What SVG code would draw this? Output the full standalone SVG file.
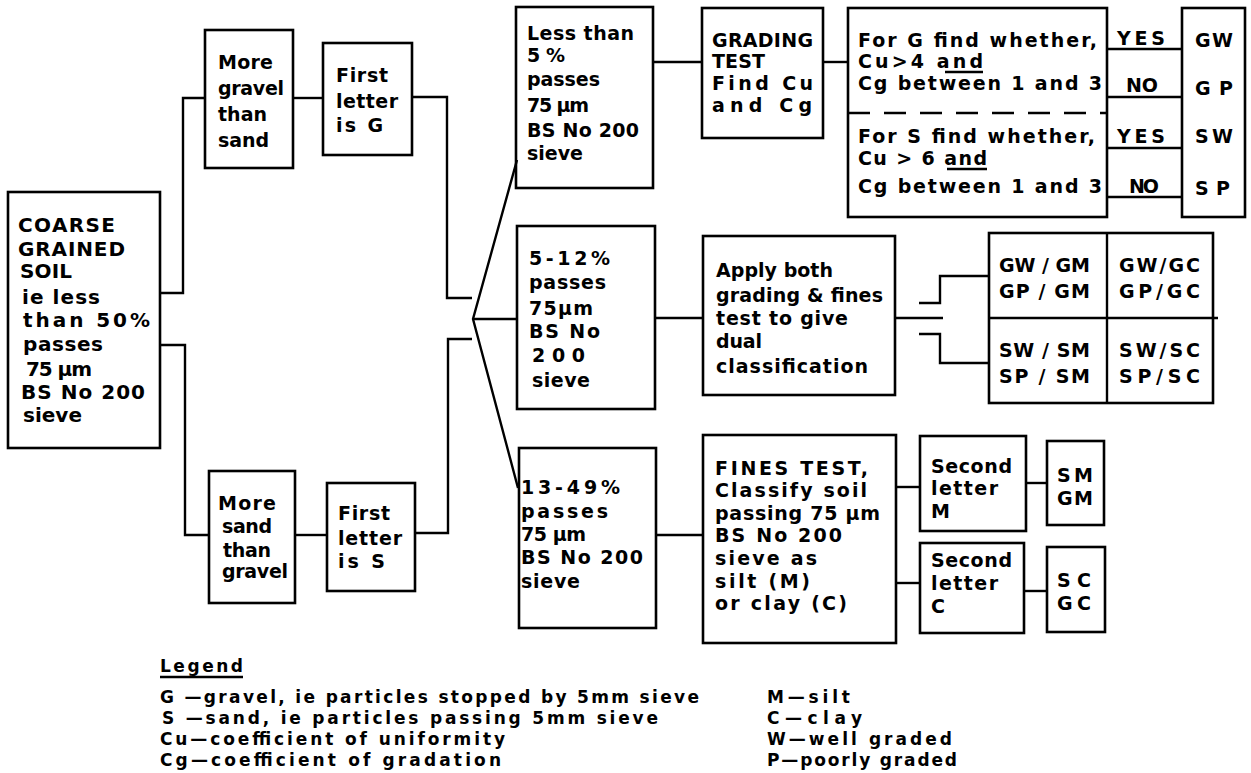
<svg xmlns="http://www.w3.org/2000/svg" width="1251" height="773" viewBox="0 0 1251 773">
<style>
.b{fill:none;stroke:#000;stroke-width:2.6}
.c{fill:none;stroke:#000;stroke-width:2.4}
text{font-family:"DejaVu Sans","Liberation Sans",sans-serif;font-weight:bold;font-size:19px;fill:#000}
.big{font-size:20px}
.lg{font-size:17px}
</style>
<rect width="1251" height="773" fill="#fff"/>
<g id="connectors" class="c">
<path d="M160,293 H183 V98 H205"/>
<path d="M160,345 H185 V535 H209"/>
<path d="M293,98 H323"/>
<path d="M295,535 H327"/>
<path d="M412,97 H447 V298 H472"/>
<path d="M415,533 H448 V339 H472"/>
<path d="M517,160 L473,319 L518,488"/>
<path d="M473,319 H517"/>
<path d="M653,62 H702"/>
<path d="M823,62 H848"/>
<path d="M1107,49 H1182"/>
<path d="M1107,97 H1182"/>
<path d="M1107,148 H1182"/>
<path d="M1107,197 H1182"/>
<path d="M655,318 H703"/>
<path d="M895,318 H943"/>
<path d="M919,303 H940 V276 H989"/>
<path d="M919,334 H940 V363 H989"/>
<path d="M656,535 H703"/>
<path d="M896,487 H920"/>
<path d="M896,583 H920"/>
<path d="M1026,483 H1047"/>
<path d="M1024,591 H1047"/>
</g>
<g id="coarse">
<rect class="b" x="8" y="192" width="152" height="256"/>
<text class="big" x="18" y="232" textLength="97">COARSE</text>
<text class="big" x="18" y="256" textLength="107">GRAINED</text>
<text class="big" x="20" y="278" textLength="52">SOIL</text>
<text class="big" x="22" y="304" textLength="78">ie less</text>
<text class="big" x="23" y="327" textLength="127">than 50%</text>
<text class="big" x="23" y="351" textLength="80">passes</text>
<text class="big" x="26" y="376" textLength="66">75 µm</text>
<text class="big" x="21" y="399" textLength="124">BS No 200</text>
<text class="big" x="23" y="422" textLength="59">sieve</text>
</g>
<g id="more-gravel">
<rect class="b" x="205" y="30" width="88" height="138"/>
<text x="218" y="69" textLength="55">More</text>
<text x="218" y="95" textLength="66">gravel</text>
<text x="218" y="121" textLength="49">than</text>
<text x="218" y="147" textLength="51">sand</text>
</g>
<g id="first-g">
<rect class="b" x="323" y="43" width="89" height="112"/>
<text x="336" y="82" textLength="52">First</text>
<text x="336" y="108" textLength="62">letter</text>
<text x="336" y="132" textLength="47">is G</text>
</g>
<g id="more-sand">
<rect class="b" x="209" y="471" width="86" height="132"/>
<text x="218" y="510" textLength="58">More</text>
<text x="222" y="533" textLength="50">sand</text>
<text x="223" y="557" textLength="48">than</text>
<text x="222" y="578" textLength="66">gravel</text>
</g>
<g id="first-s">
<rect class="b" x="327" y="483" width="88" height="108"/>
<text x="338" y="520" textLength="52">First</text>
<text x="338" y="545" textLength="64">letter</text>
<text x="338" y="568" textLength="47">is S</text>
</g>
<g id="less-5">
<rect class="b" x="516" y="7" width="137" height="181"/>
<text x="527" y="40" textLength="107">Less than</text>
<text x="527" y="62" textLength="38">5%</text>
<text x="527" y="86" textLength="73">passes</text>
<text x="527" y="112" textLength="62">75 µm</text>
<text x="527" y="137" textLength="112">BS No 200</text>
<text x="527" y="160" textLength="56">sieve</text>
</g>
<g id="grading">
<rect class="b" x="702" y="8" width="121" height="130"/>
<text x="712" y="47" textLength="101">GRADING</text>
<text x="712" y="68" textLength="53">TEST</text>
<text x="712" y="90" textLength="101">Find Cu</text>
<text x="712" y="112" textLength="100">and Cg</text>
</g>
<g id="check">
<rect class="b" x="848" y="8" width="259" height="209"/>
<line class="c" x1="848" y1="113" x2="1107" y2="113" stroke-dasharray="22 14"/>
<text x="858" y="47" textLength="239">For G find whether,</text>
<text x="858" y="68" textLength="125">Cu&gt;4 and</text>
<line class="c" x1="945" y1="72" x2="983" y2="72"/>
<text x="858" y="90" textLength="244">Cg between 1 and 3</text>
<text x="858" y="143" textLength="237">For S find whether,</text>
<text x="858" y="165" textLength="129">Cu &gt; 6 and</text>
<line class="c" x1="947" y1="169" x2="987" y2="169"/>
<text x="858" y="193" textLength="244">Cg between 1 and 3</text>
<text x="1117" y="45" textLength="48">YES</text>
<text x="1126" y="92" textLength="32">NO</text>
<text x="1117" y="143" textLength="48">YES</text>
<text x="1129" y="193" textLength="30">NO</text>
</g>
<g id="results">
<rect class="b" x="1182" y="8" width="63" height="209"/>
<text x="1195" y="47" textLength="38">GW</text>
<text x="1195" y="95" textLength="38">GP</text>
<text x="1195" y="143" textLength="38">SW</text>
<text x="1195" y="195" textLength="35">SP</text>
</g>
<g id="p5-12">
<rect class="b" x="517" y="226" width="138" height="183"/>
<text x="529" y="265" textLength="81">5-12%</text>
<text x="529" y="289" textLength="77">passes</text>
<text x="529" y="315" textLength="64">75µm</text>
<text x="529" y="338" textLength="71">BS No</text>
<text x="532" y="362" textLength="53">200</text>
<text x="532" y="387" textLength="58">sieve</text>
</g>
<g id="dual">
<rect class="b" x="703" y="236" width="192" height="159"/>
<text x="716" y="277" textLength="117">Apply both</text>
<text x="716" y="302" textLength="167">grading &amp; fines</text>
<text x="716" y="325" textLength="132">test to give</text>
<text x="716" y="348" textLength="46">dual</text>
<text x="716" y="373" textLength="152">classification</text>
</g>
<g id="dual-grid">
<rect class="b" x="989" y="233" width="224" height="170"/>
<line class="c" x1="1107" y1="233" x2="1107" y2="403"/>
<line class="c" x1="989" y1="318" x2="1218" y2="318"/>
<text x="999" y="272" textLength="91">GW / GM</text>
<text x="999" y="298" textLength="91">GP / GM</text>
<text x="999" y="357" textLength="91">SW / SM</text>
<text x="999" y="383" textLength="91">SP / SM</text>
<text x="1119" y="272" textLength="81">GW/GC</text>
<text x="1119" y="298" textLength="81">GP/GC</text>
<text x="1119" y="357" textLength="81">SW/SC</text>
<text x="1119" y="383" textLength="81">SP/SC</text>
</g>
<g id="p13-49">
<rect class="b" x="519" y="448" width="137" height="180"/>
<text x="521" y="494" textLength="99">13-49%</text>
<text x="521" y="518" textLength="87">passes</text>
<text x="521" y="541" textLength="65">75 µm</text>
<text x="521" y="564" textLength="122">BS No 200</text>
<text x="521" y="588" textLength="59">sieve</text>
</g>
<g id="fines">
<rect class="b" x="703" y="435" width="193" height="208"/>
<text x="715" y="475" textLength="153">FINES TEST,</text>
<text x="715" y="497" textLength="152">Classify soil</text>
<text x="715" y="520" textLength="165">passing 75 µm</text>
<text x="715" y="542" textLength="127">BS No 200</text>
<text x="715" y="565" textLength="102">sieve as</text>
<text x="715" y="588" textLength="95">silt (M)</text>
<text x="715" y="610" textLength="132">or clay (C)</text>
</g>
<g id="second-m">
<rect class="b" x="920" y="436" width="106" height="95"/>
<text x="931" y="473" textLength="81">Second</text>
<text x="931" y="495" textLength="67">letter</text>
<text x="931" y="518">M</text>
</g>
<g id="sm-gm">
<rect class="b" x="1047" y="441" width="57" height="84"/>
<text x="1057" y="482" textLength="36">SM</text>
<text x="1057" y="505" textLength="36">GM</text>
</g>
<g id="second-c">
<rect class="b" x="920" y="543" width="104" height="90"/>
<text x="931" y="567" textLength="81">Second</text>
<text x="931" y="590" textLength="67">letter</text>
<text x="931" y="613">C</text>
</g>
<g id="sc-gc">
<rect class="b" x="1047" y="547" width="58" height="85"/>
<text x="1057" y="587" textLength="34">SC</text>
<text x="1057" y="610" textLength="34">GC</text>
</g>
<g id="legend">
<text class="lg" x="160" y="672" textLength="83">Legend</text>
<line class="c" x1="160" y1="677" x2="243" y2="677"/>
<text class="lg" x="160" y="703" textLength="539">G —gravel, ie particles stopped by 5mm sieve</text>
<text class="lg" x="162" y="724" textLength="496">S —sand, ie particles passing 5mm sieve</text>
<text class="lg" x="160" y="745" textLength="345">Cu—coefficient of uniformity</text>
<text class="lg" x="160" y="766" textLength="341">Cg—coefficient of gradation</text>
<text class="lg" x="767" y="703" textLength="83">M—silt</text>
<text class="lg" x="767" y="724" textLength="95">C—clay</text>
<text class="lg" x="767" y="745" textLength="185">W—well graded</text>
<text class="lg" x="767" y="766" textLength="190">P—poorly graded</text>
</g>
</svg>
